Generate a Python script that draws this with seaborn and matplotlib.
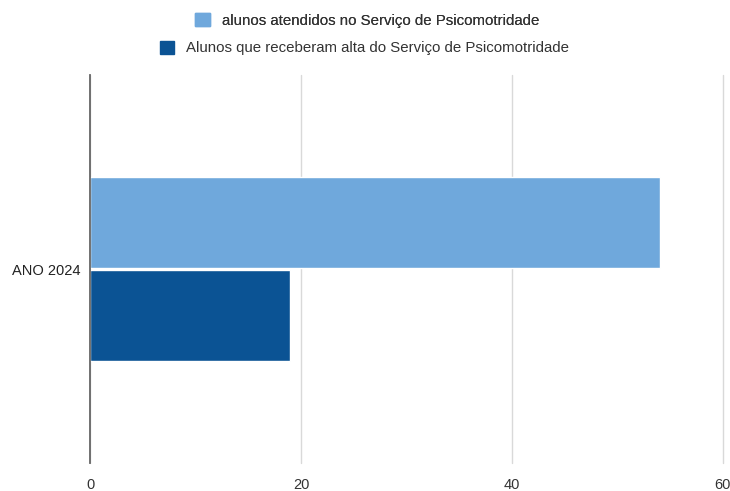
import pandas as pd
import matplotlib.pyplot as plt
import seaborn as sns
from matplotlib.patches import Patch

# --- data ---
categories = ["ANO 2024"]
series_names = [
    "alunos atendidos no Serviço de Psicomotridade",
    "Alunos que receberam alta do Serviço de Psicomotridade",
]
atendidos = [54]
alta = [19]
colors = ["#6fa8dc", "#0b5394"]

df = pd.DataFrame({
    "ano": categories * 2,
    "serie": [series_names[0]] * len(categories) + [series_names[1]] * len(categories),
    "valor": atendidos + alta,
})

sns.set_style("white")
plt.rcParams["font.family"] = ["Liberation Sans", "DejaVu Sans"]

fig = plt.figure(figsize=(7.3, 4.91), dpi=100)
ax = fig.add_axes([0.1233, 0.057, 0.867, 0.79])

sns.barplot(data=df, x="valor", y="ano", hue="serie", orient="h",
            palette=colors, width=0.48, gap=0.02, saturation=1,
            legend=False, ax=ax)

ax.set_xlim(0, 60)
ax.set_ylim(0.5, -0.5)
ax.set_xticks([0, 20, 40, 60])
ax.grid(axis="x", color="#d9d9d9", linewidth=1)
for line in ax.get_xgridlines():
    line.set_clip_on(False)
ax.set_axisbelow(True)
for s in ["top", "right", "bottom"]:
    ax.spines[s].set_visible(False)
ax.spines["left"].set_color("#666666")
ax.spines["left"].set_linewidth(1.3)
ax.spines["left"].set_zorder(5)
ax.tick_params(axis="x", length=0, pad=11, labelsize=10.5, colors="#333333")
ax.tick_params(axis="y", length=0, pad=7, labelsize=10.5, colors="#222222")
ax.set_xlabel("")
ax.set_ylabel("")

# --- legend: each row centered separately ---
leg_kw = dict(loc="center", frameon=False, fontsize=10.8, handlelength=0.95,
              handleheight=0.95, handletextpad=0.8, labelcolor="#333333")
leg1 = fig.legend(handles=[Patch(color=colors[0])], labels=[series_names[0]],
                  bbox_to_anchor=(0.503, 0.958), **leg_kw)
fig.add_artist(leg1)
fig.legend(handles=[Patch(color=colors[1])], labels=[series_names[1]],
           bbox_to_anchor=(0.499, 0.902), **leg_kw)

plt.savefig("out.png", dpi=100)
plt.close()
